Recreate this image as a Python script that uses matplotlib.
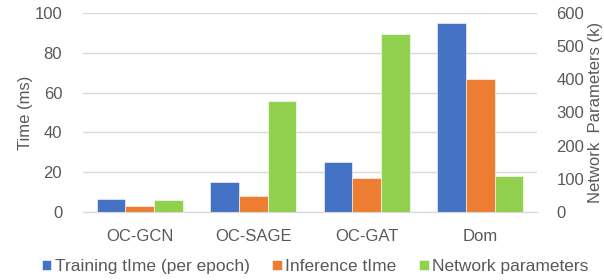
import matplotlib
matplotlib.use("Agg")
import matplotlib.pyplot as plt
import numpy as np

categories = ["OC-GCN", "OC-SAGE", "OC-GAT", "Dom"]
training_time = [6.4, 15.2, 25.1, 95.1]
inference_time = [2.9, 8.0, 16.9, 66.7]
network_params = [36, 335, 537, 109]

plt.rcParams['font.family'] = ['Liberation Sans', 'DejaVu Sans']
txt = '#595959'
fs = 12

fig = plt.figure(figsize=(6.04, 2.8), dpi=100)
ax = fig.add_axes([0.1374, 0.243, 0.7516, 0.711])
ax2 = ax.twinx()

x = np.arange(len(categories))
w = 0.253
c1, c2, c3 = '#4472C4', '#ED7D31', '#92D050'
ax.bar(x - w, training_time, w, color=c1, edgecolor='white', linewidth=0.4, label='Training tIme (per epoch)', zorder=3)
ax.bar(x, inference_time, w, color=c2, edgecolor='white', linewidth=0.4, label='Inference tIme', zorder=3)
ax2.bar(x + w, network_params, w, color=c3, edgecolor='white', linewidth=0.4, label='Network parameters', zorder=3)

ax.set_xlim(-0.5, 3.5)
ax.set_ylim(0, 100)
ax2.set_ylim(0, 600)
ax.set_yticks(range(0, 101, 20))
ax2.set_yticks(range(0, 601, 100))
ax.set_xticks(x)
ax.set_xticklabels(categories)

ax.grid(axis='y', color='#d9d9d9', linewidth=1, zorder=0)
ax.set_axisbelow(True)
for a in (ax, ax2):
    for s in ['top', 'left', 'right']:
        a.spines[s].set_visible(False)
    a.spines['bottom'].set_color('#d9d9d9')
    a.tick_params(length=0, labelsize=fs, colors=txt)
ax.tick_params(axis='y', pad=15)
ax2.tick_params(axis='y', pad=14)
ax.tick_params(axis='x', pad=12)

ax.set_ylabel('Time (ms)', fontsize=fs, color=txt)
ax2.set_ylabel('Network  Parameters (k)', fontsize=fs, color=txt)
ax.yaxis.set_label_coords(-0.110, 0.5)
ax2.yaxis.set_label_coords(1.113, 0.5)

h1, l1 = ax.get_legend_handles_labels()
h2, l2 = ax2.get_legend_handles_labels()
fig.legend(h1 + h2, l1 + l2, loc='lower center', bbox_to_anchor=(0.522, -0.035), ncol=3,
           frameon=False, fontsize=12.5, labelcolor=txt, handlelength=0.55, handleheight=0.55,
           handletextpad=0.2, columnspacing=1.3)

fig.savefig('out.png', dpi=100)
